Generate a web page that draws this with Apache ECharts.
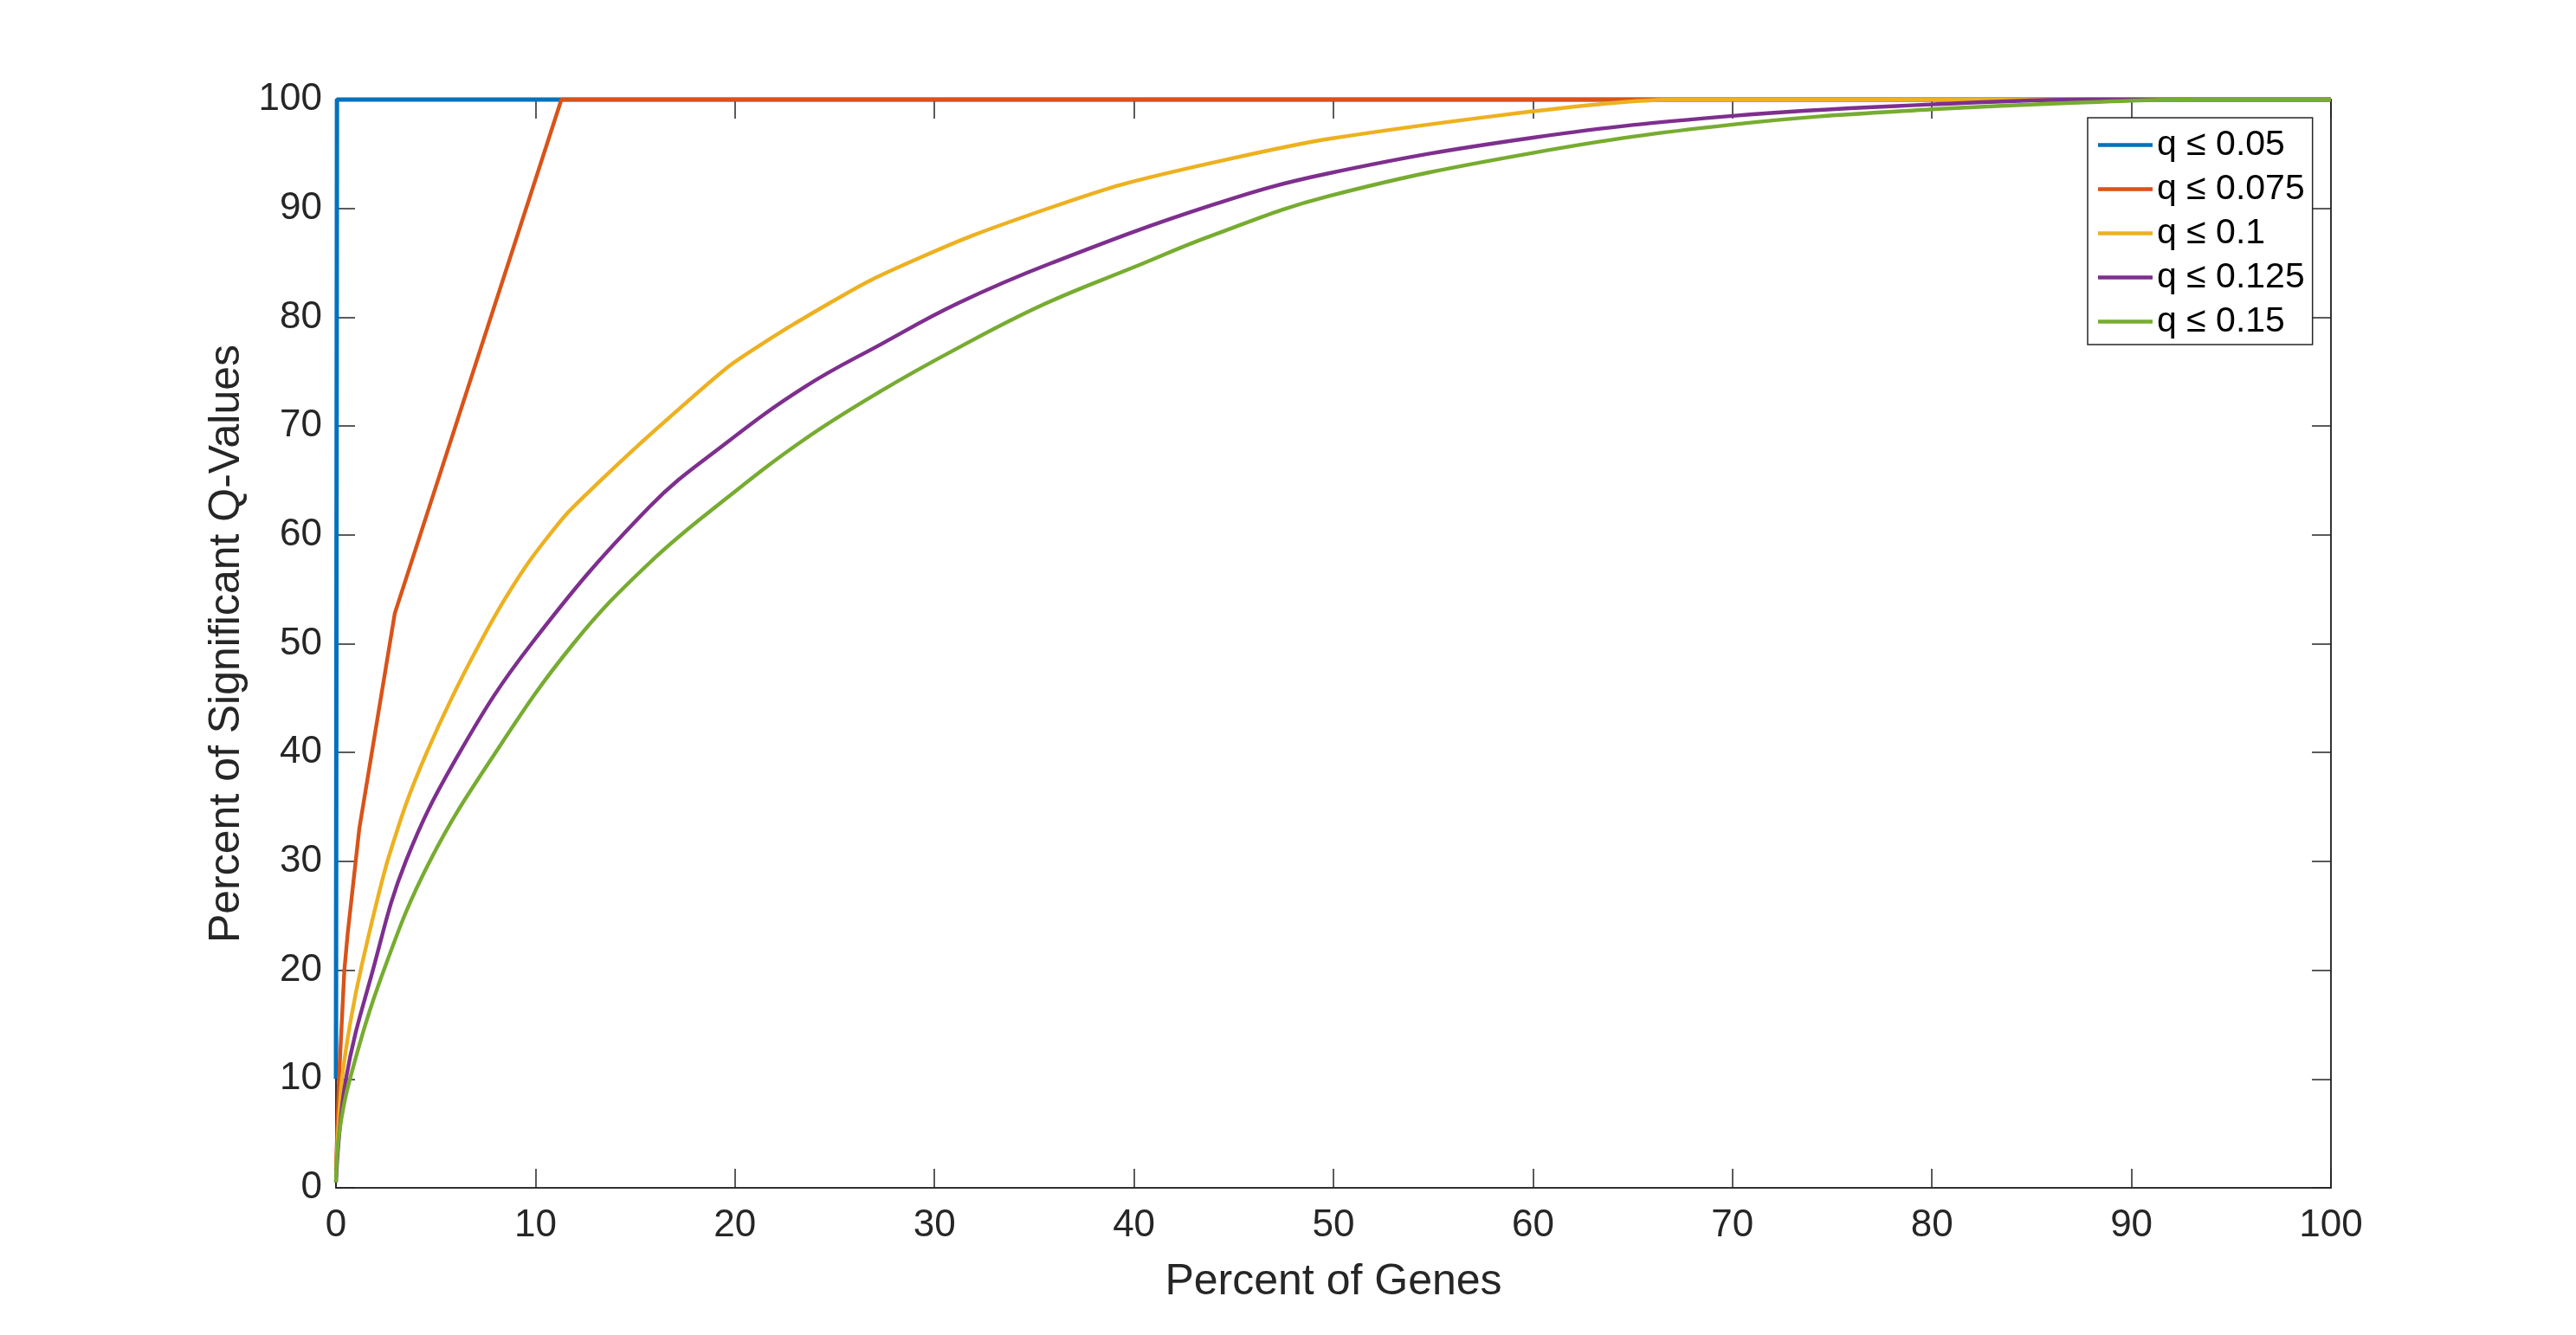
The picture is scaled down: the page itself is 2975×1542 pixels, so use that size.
<!DOCTYPE html>
<html>
<head>
<meta charset="utf-8">
<script src="https://cdn.jsdelivr.net/npm/echarts@6/dist/echarts.min.js"></script>
<style>
html,body{margin:0;padding:0;background:#fff;}
#chart{width:2975px;height:1542px;}
</style>
</head>
<body>
<div id="chart"></div>
<script>
// ---- data (percent of genes, percent of significant q-values) ----
const seriesNames = ['q \u2264 0.05', 'q \u2264 0.075', 'q \u2264 0.1', 'q \u2264 0.125', 'q \u2264 0.15'];
const xTicks = [0,10,20,30,40,50,60,70,80,90,100];
const yTicks = [0,10,20,30,40,50,60,70,80,90,100];

const blueX   = [0, 0.05, 100];
const blueY   = [10, 100, 100];

const orangeX = [0, 0.15, 0.42, 0.59, 1.17, 2.95, 11.3, 100];
const orangeY = [1.6, 10, 20, 23.4, 33.0, 52.8, 100, 100];

const yellowX = [0, 0.1, 0.3, 0.75, 1.3, 2.5, 3.5, 4.55, 5.8, 7.2, 8.5, 9.78, 11.5, 13.5, 15.86, 19.7, 22.8, 26.8, 31.9, 39.4, 49.8, 67, 100];
const yellowY = [1, 5, 10, 15.5, 20.5, 29.5, 35.2, 40, 45, 50, 54.2, 57.8, 61.8, 65.4, 69.4, 75.5, 79.2, 83.4, 87.5, 92.2, 96.4, 100, 100];

const purpleX = [0, 0.5, 1.85, 3.5, 6.2, 9.8, 15.7, 19.6, 23.5, 27.3, 31.2, 35.9, 43.9, 49.7, 60, 70, 80, 88, 100];
const purpleY = [0.5, 10, 20, 30, 40, 50, 62.55, 68.5, 73.6, 77.5, 81.3, 85.0, 90.3, 93.2, 96.5, 98.5, 99.55, 100, 100];

const greenX  = [0, 0.16, 0.7, 2.4, 4.7, 8.0, 11.9, 15.7, 19.6, 23.5, 27.3, 31.2, 35.5, 40, 43.9, 49.7, 60, 70, 80, 90, 93, 100];
const greenY  = [0.5, 5, 10, 20, 30, 40, 50, 57.4, 63.4, 68.8, 73.2, 77.2, 81.2, 84.6, 87.5, 91.1, 95.1, 97.7, 99.1, 99.9, 100, 100];

const colors = ['#0072BD', '#D95319', '#EDB120', '#7E2F8E', '#77AC30'];
const xs = [blueX, orangeX, yellowX, purpleX, greenX];
const ys = [blueY, orangeY, yellowY, purpleY, greenY];
const smoothing = [false, false, 0.2, 0.4, 0.4];

function pairs(x, y){ return x.map((v,i)=>[v, y[i]]); }

const FONT = '"Liberation Sans", Arial, Helvetica, sans-serif';
const AX = '#262626';

const chart = echarts.init(document.getElementById('chart'), null, {renderer:'canvas'});

const series = seriesNames.map((n,i)=>({
  name: n,
  type: 'line',
  data: pairs(xs[i], ys[i]),
  showSymbol: false,
  symbol: 'none',
  clip: false,
  smooth: smoothing[i],
  animation: false,
  lineStyle: {color: colors[i], width: i===0 ? 5 : 4.4},
  itemStyle: {color: colors[i]},
  z: 3 + i
}));

const tickCommon = {show:true, inside:true, length:22, lineStyle:{color:AX, width:1.5}};

chart.setOption({
  backgroundColor: '#ffffff',
  animation: false,
  grid: {left: 388, right: 283, top: 115, bottom: 170, show: true, borderColor: AX, borderWidth: 1.5, backgroundColor: 'transparent'},
  legend: {
    orient: 'vertical',
    left: 2411, top: 136,
    data: seriesNames,
    icon: 'rect',
    itemWidth: 63, itemHeight: 4.5,
    itemGap: 0,
    padding: [6, 9, 1, 12],
    backgroundColor: '#ffffff',
    borderColor: AX, borderWidth: 1.5,
    selectedMode: false,
    textStyle: {fontFamily: FONT, fontSize: 41, color: '#000000', lineHeight: 51}
  },
  xAxis: [{
    type: 'value', min: 0, max: 100, interval: 10, position: 'bottom',
    axisLine: {show:true, onZero:false, lineStyle:{color:AX, width:1.5}},
    axisTick: tickCommon,
    splitLine: {show:false},
    axisLabel: {fontFamily: FONT, fontSize: 44, color: AX, margin: 22,
      formatter: v => xTicks.includes(v) ? String(v) : ''},
    name: 'Percent of Genes', nameLocation: 'middle', nameGap: 84,
    nameTextStyle: {fontFamily: FONT, fontSize: 50, color: AX}
  },{
    type: 'value', min: 0, max: 100, interval: 10, position: 'top',
    axisLine: {show:true, onZero:false, lineStyle:{color:AX, width:1.5}},
    axisTick: tickCommon, axisLabel: {show:false}, splitLine: {show:false}
  }],
  yAxis: [{
    type: 'value', min: 0, max: 100, interval: 10, position: 'left',
    axisLine: {show:true, onZero:false, lineStyle:{color:AX, width:1.5}},
    axisTick: tickCommon,
    splitLine: {show:false},
    axisLabel: {fontFamily: FONT, fontSize: 44, color: AX, margin: 16,
      formatter: v => yTicks.includes(v) ? String(v) : ''},
    name: 'Percent of Significant Q-Values', nameLocation: 'middle', nameGap: 100,
    nameTextStyle: {fontFamily: FONT, fontSize: 50, color: AX}
  },{
    type: 'value', min: 0, max: 100, interval: 10, position: 'right',
    axisLine: {show:true, onZero:false, lineStyle:{color:AX, width:1.5}},
    axisTick: tickCommon, axisLabel: {show:false}, splitLine: {show:false}
  }],
  series: series
});
</script>
</body>
</html>
